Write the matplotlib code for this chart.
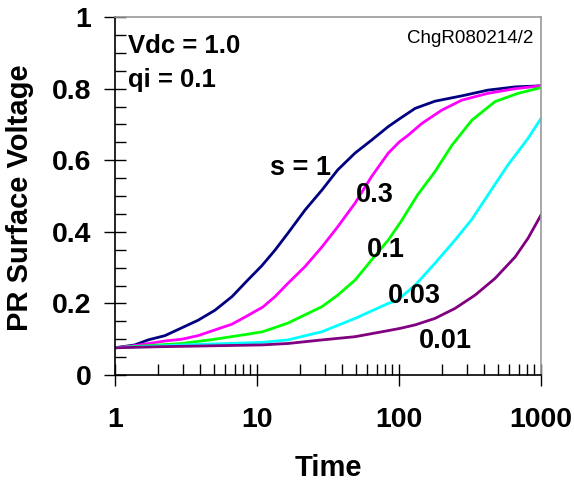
import numpy as np
import matplotlib
matplotlib.use('Agg')
import matplotlib.pyplot as plt
from matplotlib.ticker import FixedLocator, NullFormatter

plt.rcParams['font.family'] = ['Liberation Sans', 'DejaVu Sans']

# curves (time, surface voltage)
t_s1 = [1, 1.38, 1.71, 2.25, 2.96, 3.85, 5.06, 6.67, 8.6, 10.8, 13.4, 16.5, 21.8, 28.7, 37, 49, 64, 84,
        101, 130, 179, 277, 423, 658, 1000]
v_s1 = [0.076, 0.084, 0.098, 0.11, 0.132, 0.153, 0.181, 0.219, 0.265, 0.305, 0.349, 0.396, 0.461, 0.517,
        0.573, 0.62, 0.656, 0.694, 0.716, 0.745, 0.765, 0.78, 0.796, 0.805, 0.808]

t_s03 = [1, 1.38, 2.25, 2.96, 3.85, 5.06, 6.67, 8.6, 11, 13.4, 16.5, 21.8, 28.7, 37, 49, 64, 84, 101,
         116, 145, 200, 277, 423, 658, 1000]
v_s03 = [0.076, 0.082, 0.095, 0.10, 0.11, 0.126, 0.142, 0.166, 0.19, 0.219, 0.256, 0.303, 0.358, 0.414,
         0.48, 0.554, 0.62, 0.652, 0.67, 0.703, 0.74, 0.768, 0.787, 0.80, 0.808]

t_s01 = [1, 1.71, 2.96, 5.06, 8.6, 11, 16.5, 28.7, 37, 49, 64, 84, 103, 135, 179, 236, 326, 475, 690, 1000]
v_s01 = [0.076, 0.082, 0.088, 0.10, 0.114, 0.121, 0.145, 0.191, 0.223, 0.265, 0.321, 0.377, 0.428, 0.503,
         0.568, 0.642, 0.712, 0.764, 0.787, 0.803]

t_s003 = [1, 2.96, 10.8, 16.5, 28.7, 49, 84, 96, 130, 179, 248, 326, 423, 585, 810, 1000]
v_s003 = [0.076, 0.084, 0.091, 0.098, 0.121, 0.158, 0.20, 0.207, 0.251, 0.312, 0.377, 0.435, 0.503,
          0.587, 0.661, 0.717]

t_s001 = [1, 2.07, 10.8, 16.5, 28.7, 49, 84, 101, 130, 179, 248, 343, 475, 658, 810, 1000]
v_s001 = [0.076, 0.079, 0.084, 0.088, 0.098, 0.107, 0.124, 0.13, 0.14, 0.158, 0.186, 0.223, 0.27,
          0.33, 0.382, 0.447]

colors = ['#000080', '#FF00FF', '#00FF00', '#00FFFF', '#800080']
curves = [(t_s1, v_s1), (t_s03, v_s03), (t_s01, v_s01), (t_s003, v_s003), (t_s001, v_s001)]

labels = ['s = 1', '0.3', '0.1', '0.03', '0.01']
label_pos = [(20.1, 0.559), (67.8, 0.483), (81, 0.33), (128, 0.201), (211, 0.075)]

fig = plt.figure(figsize=(5.74, 4.82), dpi=100)
ax = fig.add_axes([0.2003, 0.222, 0.7422, 0.7425])

for (t, v), c in zip(curves, colors):
    ax.plot(t, v, color=c, lw=2.0)

ax.set_xscale('log')
ax.set_xlim(1, 1000)
ax.set_ylim(0, 1)

ax.set_xticks([1, 10, 100, 1000])
ax.set_xticklabels(['1', '10', '100', '1000'])
ax.xaxis.set_minor_locator(FixedLocator([m * 10 ** k for k in range(3) for m in range(2, 10)]))
ax.xaxis.set_minor_formatter(NullFormatter())
ax.set_yticks([0, 0.2, 0.4, 0.6, 0.8, 1.0])
ax.set_yticklabels(['0', '0.2', '0.4', '0.6', '0.8', '1'])
ax.yaxis.set_minor_locator(FixedLocator(np.arange(0.05, 1.0, 0.05)))

ax.tick_params(which='major', direction='inout', length=16, width=1, color='black')
ax.tick_params(which='minor', direction='in', length=8, width=1, color='black')
ax.tick_params(axis='x', which='major', pad=15, labelsize=20.5)
ax.tick_params(axis='y', which='major', pad=9, labelsize=20.5)
for lab in ax.get_xticklabels() + ax.get_yticklabels():
    lab.set_fontweight('bold')

for side in ['top', 'right']:
    ax.spines[side].set_color('#999999')
    ax.spines[side].set_linewidth(1.2)
for side in ['left', 'bottom']:
    ax.spines[side].set_linewidth(1.2)

ax.set_xlabel('Time', fontsize=21, fontweight='bold')
ax.set_ylabel('PR Surface Voltage', fontsize=21, fontweight='bold')
ax.xaxis.set_label_coords(0.5, -0.222)
ax.yaxis.set_label_coords(-0.19, 0.495)

ax.text(0.03, 0.899, 'Vdc = 1.0', transform=ax.transAxes, fontsize=18.5, fontweight='bold', va='baseline')
ax.text(0.03, 0.804, 'qi = 0.1', transform=ax.transAxes, fontsize=18.5, fontweight='bold', va='baseline')
ax.text(0.981, 0.927, 'ChgR080214/2', transform=ax.transAxes, fontsize=13.5, ha='right', va='baseline')

for txt, (x, y) in zip(labels, label_pos):
    ax.text(x, y, txt, fontsize=19.5, fontweight='bold', ha='center', va='baseline')

fig.savefig('out.png', dpi=100)
